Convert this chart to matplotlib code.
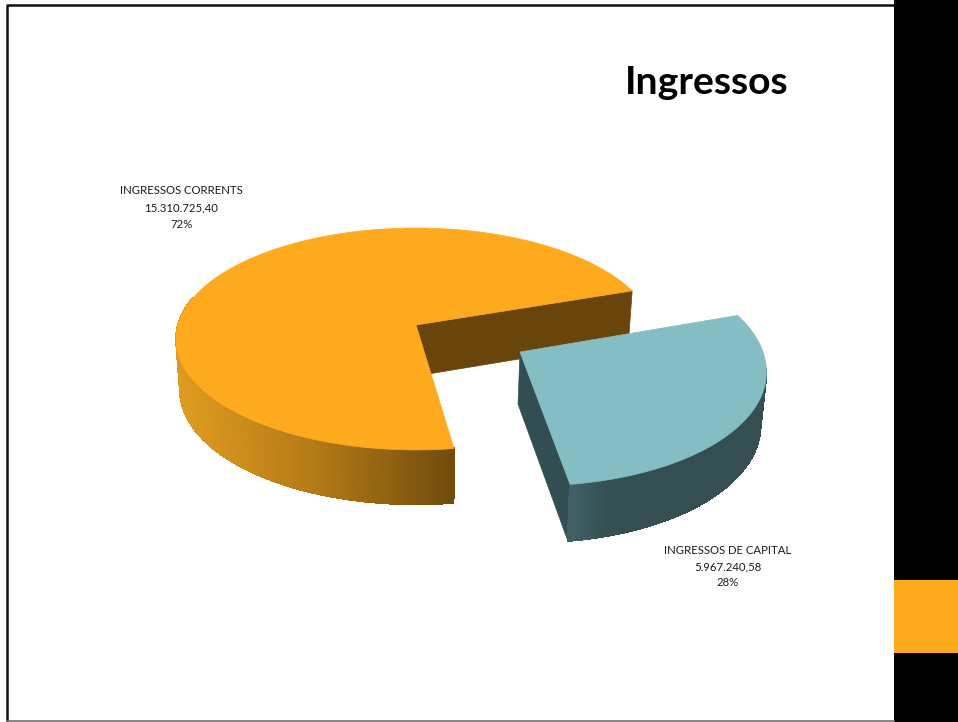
# -*- coding: utf-8 -*-
import numpy as np
import matplotlib
matplotlib.use("Agg")
import matplotlib.pyplot as plt
from matplotlib.collections import PolyCollection
from matplotlib.colors import LinearSegmentedColormap
from matplotlib.patches import Polygon, Rectangle

plt.rcParams['font.family'] = ['Lato', 'DejaVu Sans']

# %% data
title = "Ingressos"
categories = ["INGRESSOS CORRENTS", "INGRESSOS DE CAPITAL"]
values = [15310725.40, 5967240.58]
value_labels = ["15.310.725,40", "5.967.240,58"]

ORANGE = "#FEAA1F"
BLUE = "#84BDC3"
PERSP = 0.126  # back of the disc is farther away than the front


def ring(t, disc):
    # disc angle (degrees) -> pixel position, with a bit of perspective
    cx, cy, rx, ry, shear = disc
    t = np.radians(np.atleast_1d(t))
    w = 1 + PERSP*np.sin(t)
    dy = -ry*np.sin(t)/w
    return np.column_stack([cx + rx*np.cos(t)/w + shear*dy, cy + dy])


def wall(ax, t, disc_top, disc_bot, cmap, vmin, vmax):
    # outer side of a slice, split in thin quads for the shading
    top = ring(t, disc_top)
    bot = ring(t, disc_bot)
    quads = [[top[i], top[i+1], bot[i+1], bot[i]] for i in range(len(t)-1)]
    shade = (top[:-1, 0] - vmin) / (vmax - vmin)
    colors = cmap(np.clip(shade, 0, 1))
    ax.add_collection(PolyCollection(quads, facecolors=colors, edgecolors=colors,
                                     linewidths=0.8, antialiaseds=False))


fig = plt.figure(figsize=(9.58, 7.22), dpi=100)
ax = fig.add_axes([0, 0, 1, 1])
ax.set_xlim(0, 958)
ax.set_ylim(722, 0)
ax.axis("off")

# slide frame and side band
ax.plot([7, 7, 894], [722, 5, 5], color="#111111", lw=1.8, solid_capstyle="butt")
ax.plot([7, 894], [721.2, 721.2], color="#707070", lw=1.2)
ax.add_patch(Rectangle((894, 0), 64, 722, fc="black", ec="none"))
ax.add_patch(Rectangle((894, 580), 64, 73, fc=ORANGE, ec="none"))

# %% slice angles come from the values
start = 19.0
sweep = 360.0 * values[0] / sum(values)
split = start + sweep

orange_top = (416, 325, 238, 109.2, 0)
orange_bot = (416, 376, 234, 112, 0)
blue_top = (520, 352, 243, 117, 0.085)
blue_bot = (518, 404, 239, 121, 0.085)


def apex(disc):
    return disc[:2]


orange_arc = ring(np.linspace(start, split, 200), orange_top)
blue_arc = ring(np.linspace(split, start+360, 100), blue_top)

# inner cut face of the orange slice
ax.add_patch(Polygon([apex(orange_top), ring(start, orange_top)[0],
                      ring(start, orange_bot)[0], apex(orange_bot)],
                     fc="#69450B", ec="#69450B", lw=0.5))

orange_cmap = LinearSegmentedColormap.from_list("o", ["#E09C20", "#B27A16", "#6F4A0C"])
wall(ax, np.linspace(165, split, 160), orange_top, orange_bot, orange_cmap, 176, 456)
ax.add_patch(Polygon(np.vstack([apex(orange_top), orange_arc]), fc=ORANGE, ec=ORANGE, lw=0.5))

# blue slice, pulled out
ax.add_patch(Polygon([apex(blue_top), ring(split, blue_top)[0],
                      ring(split, blue_bot)[0], apex(blue_bot)],
                     fc="#334E52", ec="#334E52", lw=0.5))
blue_cmap = LinearSegmentedColormap.from_list("b", ["#406066", "#354F53", "#344E51"])
wall(ax, np.linspace(split, 352, 100), blue_top, blue_bot, blue_cmap, 575, 640)
ax.add_patch(Polygon(np.vstack([apex(blue_top), blue_arc]), fc=BLUE, ec=BLUE, lw=0.5))

# %% text
ax.text(706.5, 83, title, fontsize=28.2, fontweight="bold", color="black", ha="center", va="center")

label_pos = [(181.5, 191), (728, 550)]
for cat, val, v, (x, y) in zip(categories, value_labels, values, label_pos):
    pct = "{:.0f}%".format(100.0 * v / sum(values))
    for i, line in enumerate([cat, val, pct]):
        ax.text(x, y + i*16.5, line, fontsize=8.2, color="#1a1a1a", ha="center", va="center")

fig.savefig("out.png", dpi=100)
